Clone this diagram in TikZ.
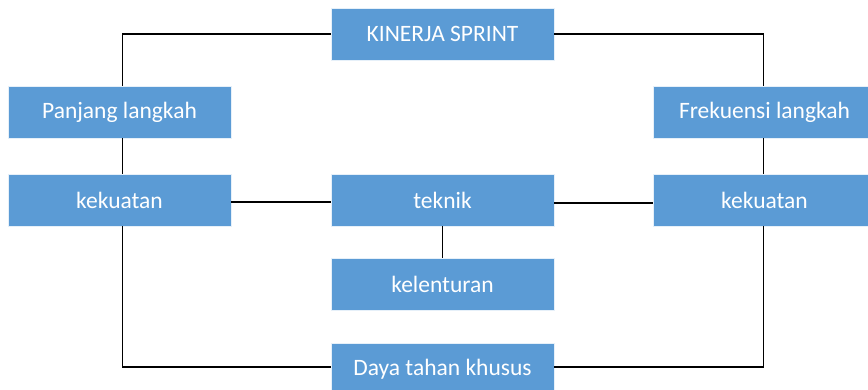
\documentclass[tikz,border=0pt]{standalone}
\usepackage{fontspec}
\setmainfont{Carlito}
\definecolor{boxblue}{HTML}{5B9BD5}
\begin{document}
\begin{tikzpicture}[x=1pt,y=-1pt,
  box/.style={draw=white!85!boxblue,line width=0.8pt,fill=boxblue,text=white,minimum width=223pt,minimum height=52pt,inner sep=0pt,font=\fontsize{23.5}{26}\selectfont},
  conn/.style={draw=black,line width=1.5pt}]
\useasboundingbox (0,0) rectangle (868,390);
\clip (0,0) rectangle (868,390);
\node[box] (ks) at (442.5,34) {KINERJA SPRINT};
\node[box] (pl) at (119.5,112) {Panjang langkah};
\node[box] (kl) at (119.5,200) {kekuatan};
\node[box] (tk) at (442.5,200) {teknik};
\node[box] (kt) at (442.5,284) {kelenturan};
\node[box] (dt) at (442.5,369) {Daya tahan khusus};
\node[box] (fl) at (764.5,112) {Frekuensi langkah};
\node[box] (kr) at (764.5,200) {kekuatan};
\coordinate (lx) at (122.5,0);
\coordinate (rx) at (763.5,0);
\draw[conn] (ks.west) -| (lx |- pl.north);
\draw[conn] (ks.east) -| (rx |- fl.north);
\draw[conn] (lx |- pl.south) -- (lx |- kl.north);
\draw[conn] (rx |- fl.south) -- (rx |- kr.north);
\draw[conn] ([yshift=-2pt]kl.east) -- ([yshift=-2pt]tk.west);
\draw[conn] ([yshift=-3pt]tk.east) -- ([yshift=-3pt]kr.west);
\draw[conn] (tk.south) -- (kt.north);
\draw[conn] (lx |- kl.south) |- ([yshift=2pt]dt.west);
\draw[conn] (rx |- kr.south) |- ([yshift=2pt]dt.east);
\end{tikzpicture}
\end{document}
